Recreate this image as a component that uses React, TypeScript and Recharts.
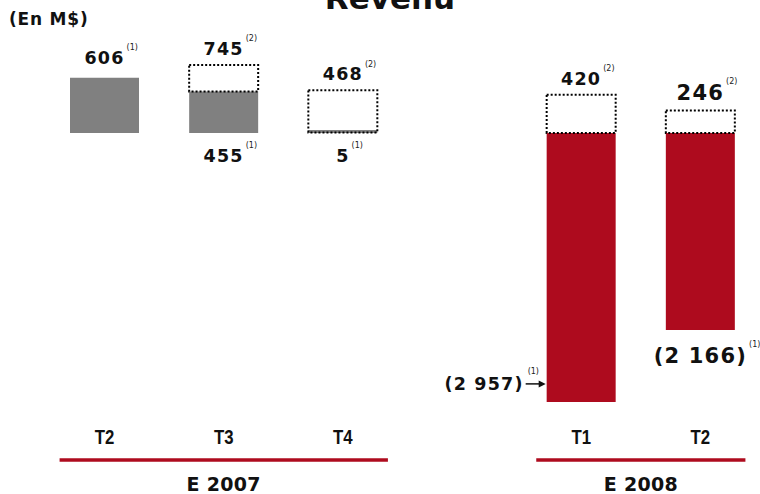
import React from 'react';
import { BarChart, Bar, XAxis, YAxis, Cell, LabelList } from 'recharts';

// Revenu, en M$ — (1) publié, (2) ajusté
const keys = ['2007-T2', '2007-T3', '2007-T4', 'gap', '2008-T1', '2008-T2'];
const quarters = ['T2', 'T3', 'T4', '', 'T1', 'T2'];
const years = ['E 2007', 'E 2007', 'E 2007', '', 'E 2008', 'E 2008'];
const reported = [606, 455, 5, null, -2957, -2166];
const adjusted = [null, 745, 468, null, 420, 246];
const reportedText = ['606', '455', '5', '', '(2 957)', '(2 166)'];
const adjustedText = ['', '745', '468', '', '420', '246'];

const W = 760;
const H = 494;
const LEFT = 45;
const TOP = 51;
const AXIS_H = 70;
const BAND = (W - LEFT) / keys.length;

const GRAY = '#808080';
const RED = '#AE0B1E';
const FONT = '"DejaVu Sans", Verdana, sans-serif';
const TICK_FONT = '"Liberation Sans", Arial, sans-serif';

// where the reported figure goes, and which figures are set larger
const reportedPlace = ['top', 'below', 'below', '', 'left', 'under'];
const bigText = [false, false, false, false, false, true];

const data = keys.map((k, i) => ({
  key: k,
  reported: reported[i],
  box: adjusted[i] == null ? null : [Math.max(reported[i] ?? 0, 0), adjusted[i]],
}));

const charW = (s: string) => {
  let w = 0;
  for (const c of s) w += c === ' ' ? 0.348 : c === '(' || c === ')' ? 0.457 : 0.696;
  return w;
};

// category index from the bar's centre (LabelList skips empty entries)
const slot = (x: number, width: number) => Math.round((x + width / 2 - LEFT - BAND / 2) / BAND);

function Figure({ cx, baseline, text, note, size, anchor = 'middle' }: any) {
  const ls = 1.2;
  const w = charW(text) * size + ls * text.length;
  const right = anchor === 'middle' ? cx + w / 2 : cx;
  return (
    <g>
      <text x={cx} y={baseline} textAnchor={anchor} fontFamily={FONT} fontWeight="bold"
        fontSize={size} letterSpacing={ls} fill="#111">{text}</text>
      {anchor === 'middle' && (
        <text x={right + 2} y={baseline - size * 0.78} fontFamily={FONT} fontSize={8} fill="#222">{note}</text>
      )}
    </g>
  );
}

function ReportedLabel(props: any) {
  const { x, y, width, height } = props;
  const index = slot(x, width);
  if (reported[index] == null) return null;
  const top = Math.min(y, y + height);
  const bottom = Math.max(y, y + height);
  const cx = x + width / 2;
  const size = bigText[index] ? 21 : 17.5;
  const place = reportedPlace[index];
  const text = reportedText[index];
  if (place === 'top') return <Figure cx={cx} baseline={top - 14} text={text} note="(1)" size={size} />;
  if (place === 'below') return <Figure cx={cx} baseline={bottom + 29} text={text} note="(1)" size={size} />;
  if (place === 'under') return <Figure cx={cx} baseline={bottom + 33} text={text} note="(1)" size={size} />;
  // left of the bar bottom, with an arrow
  const base = bottom - 12;
  const ax0 = x - 21;
  const ax1 = x - 1;
  const ay = base - 6;
  return (
    <g>
      <Figure cx={ax0 - 2} baseline={base} text={text} note="" size={size} anchor="end" />
      <line x1={ax0} y1={ay} x2={ax1 - 6} y2={ay} stroke="#111" strokeWidth={1.5} />
      <polygon points={`${ax1},${ay} ${ax1 - 7},${ay - 3.5} ${ax1 - 7},${ay + 3.5}`} fill="#111" />
      <text x={ax0 + 2} y={ay - 10} fontFamily={FONT} fontSize={8} fill="#222">(1)</text>
    </g>
  );
}

function AdjustedLabel(props: any) {
  const { x, y, width, height } = props;
  const index = slot(x, width);
  if (adjusted[index] == null) return null;
  const top = Math.min(y, y + height);
  const size = bigText[index] ? 21 : 17.5;
  return <Figure cx={x + width / 2} baseline={top - 10} text={adjustedText[index]} note="(2)" size={size} />;
}

function QuarterTick(props: any) {
  const { x, y, payload } = props;
  const i = payload.index;
  const yr = years[i];
  let group = null;
  if (yr && (i === 0 || years[i - 1] !== yr)) {
    const n = years.filter((v) => v === yr).length;
    const x0 = x - 45;
    const x1 = x + (n - 1) * BAND + 45;
    group = (
      <g>
        <line x1={x0} x2={x1} y1={y + 36} y2={y + 36} stroke={RED} strokeWidth={3.5} />
        <text x={(x0 + x1) / 2} y={y + 67} textAnchor="middle" fontFamily={FONT} fontWeight="bold"
          fontSize={19} letterSpacing={0.3} fill="#111">{yr}</text>
      </g>
    );
  }
  return (
    <g>
      <text transform={`translate(${x},${y + 20}) scale(0.8,1)`} textAnchor="middle" fontFamily={TICK_FONT}
        fontWeight="bold" fontSize={21} fill="#111">{quarters[i]}</text>
      {group}
    </g>
  );
}

export default function App() {
  return (
    <div style={{ position: 'absolute', left: 0, top: 0, width: W, height: H, background: '#fff' }}>
      <BarChart width={W} height={H} data={data} margin={{ top: TOP, right: 0, left: LEFT, bottom: 0 }}>
        <XAxis dataKey="key" height={AXIS_H} interval={0} axisLine={false} tickLine={false}
          tickSize={0} tickMargin={0} tick={<QuarterTick />} />
        <XAxis dataKey="key" xAxisId="box" hide />
        <YAxis hide domain={[-3200, 900]} />
        <Bar dataKey="reported" barSize={69} isAnimationActive={false} minPointSize={3}>
          {data.map((d, i) => (
            <Cell key={d.key} fill={years[i] === 'E 2008' ? RED : GRAY} />
          ))}
          <LabelList dataKey="reported" content={<ReportedLabel />} />
        </Bar>
        <Bar dataKey="box" xAxisId="box" barSize={69} isAnimationActive={false}
          fill="none" stroke="#000" strokeWidth={2} strokeDasharray="2 2">
          <LabelList dataKey="box" content={<AdjustedLabel />} />
        </Bar>
      </BarChart>
      <svg width={W} height={H} style={{ position: 'absolute', left: 0, top: 0, pointerEvents: 'none' }}>
        <text x={390} y={9} textAnchor="middle" fontFamily={FONT} fontWeight="bold" fontSize={31} fill="#111">Revenu</text>
        <text x={9} y={25} fontFamily={FONT} fontWeight="bold" fontSize={17} letterSpacing={0.8} fill="#111">(En M$)</text>
      </svg>
    </div>
  );
}
